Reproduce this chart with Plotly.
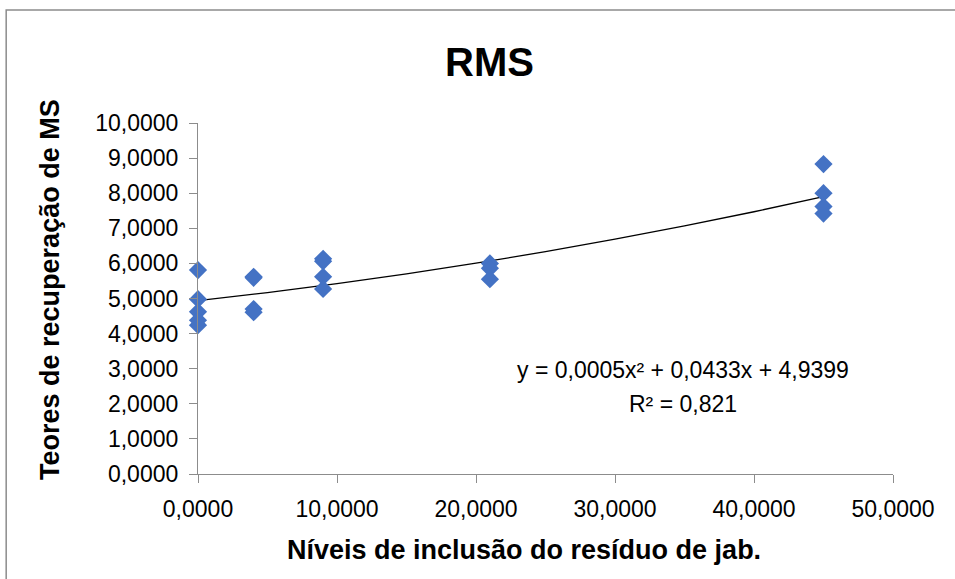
import plotly.graph_objects as go

# Data
x_vals = [0, 0, 0, 0, 0,
          4, 4, 4, 4,
          9, 9, 9, 9,
          21, 21, 21,
          45, 45, 45, 45]
y_vals = [5.81, 4.98, 4.62, 4.38, 4.24,
          5.62, 5.59, 4.70, 4.61,
          6.13, 6.06, 5.62, 5.27,
          6.00, 5.86, 5.55,
          8.83, 8.00, 7.62, 7.42]

# Trend coefficients (from the chart label)
a2, a1, a0 = 0.0005, 0.0433, 4.9399
trend_x = [0, 5, 10, 15, 20, 25, 30, 35, 40, 45]
trend_y = [a2 * v * v + a1 * v + a0 for v in trend_x]

x_ticks = [0, 10, 20, 30, 40, 50]
x_ticktext = ["0,0000", "10,0000", "20,0000", "30,0000", "40,0000", "50,0000"]
y_ticks = [0, 1, 2, 3, 4, 5, 6, 7, 8, 9, 10]
y_ticktext = ["0,0000", "1,0000", "2,0000", "3,0000", "4,0000", "5,0000",
              "6,0000", "7,0000", "8,0000", "9,0000", "10,0000"]

title = "RMS"
x_title = "Níveis de inclusão do resíduo de jab."
y_title = "Teores de recuperação de MS"
eq_text = "y = 0,0005x² + 0,0433x + 4,9399"
r2_text = "R² = 0,821"

fig = go.Figure()
fig.add_trace(go.Scatter(
    x=trend_x, y=trend_y, mode="lines",
    line=dict(color="black", width=1.3, shape="spline"),
    showlegend=False, hoverinfo="skip"))
fig.add_trace(go.Scatter(
    x=x_vals, y=y_vals, mode="markers", cliponaxis=False,
    marker=dict(symbol="diamond", size=14, color="#4472C4",
                line=dict(width=0)),
    showlegend=False))

axis_common = dict(
    showgrid=False, zeroline=False, showline=True,
    linecolor="#8c8c8c", linewidth=1.2,
    ticks="outside", ticklen=8, tickcolor="#8c8c8c", tickwidth=1.2,
    tickfont=dict(family="Liberation Sans", size=23, color="black"),
)

fig.update_layout(
    width=955, height=579,
    margin=dict(l=198, r=62, t=123, b=105),
    paper_bgcolor="white", plot_bgcolor="white",
    xaxis=dict(range=[0, 50], tickvals=x_ticks, ticktext=x_ticktext,
               ticklabelstandoff=6, **axis_common),
    yaxis=dict(range=[0, 10], tickvals=y_ticks, ticktext=y_ticktext,
               ticklabelstandoff=6, **axis_common),
    shapes=[dict(type="rect", xref="paper", yref="paper",
                 x0=-0.276, x1=1.2, y0=-0.4, y1=1.322,
                 line=dict(color="#8c8c8c", width=1.5), layer="below")],
    annotations=[
        dict(text="<b>" + title + "</b>", xref="paper", yref="paper",
             x=0.419, y=1.174, xanchor="center", yanchor="middle",
             showarrow=False,
             font=dict(family="Liberation Sans", size=40, color="black")),
        dict(text="<b>" + x_title + "</b>", xref="paper", yref="paper",
             x=0.469, y=-0.2165, xanchor="center", yanchor="middle",
             showarrow=False,
             font=dict(family="Liberation Sans", size=27, color="black")),
        dict(text="<b>" + y_title + "</b>", xref="paper", yref="paper",
             x=-0.213, y=0.527, xanchor="center", yanchor="middle",
             textangle=-90, showarrow=False,
             font=dict(family="Liberation Sans", size=27, color="black")),
        dict(text=eq_text, xref="paper", yref="paper",
             x=0.698, y=0.296, xanchor="center", yanchor="middle",
             showarrow=False,
             font=dict(family="Liberation Sans", size=23, color="black")),
        dict(text=r2_text, xref="paper", yref="paper",
             x=0.698, y=0.199, xanchor="center", yanchor="middle",
             showarrow=False,
             font=dict(family="Liberation Sans", size=23, color="black")),
    ],
)

fig.write_html("out.html")
